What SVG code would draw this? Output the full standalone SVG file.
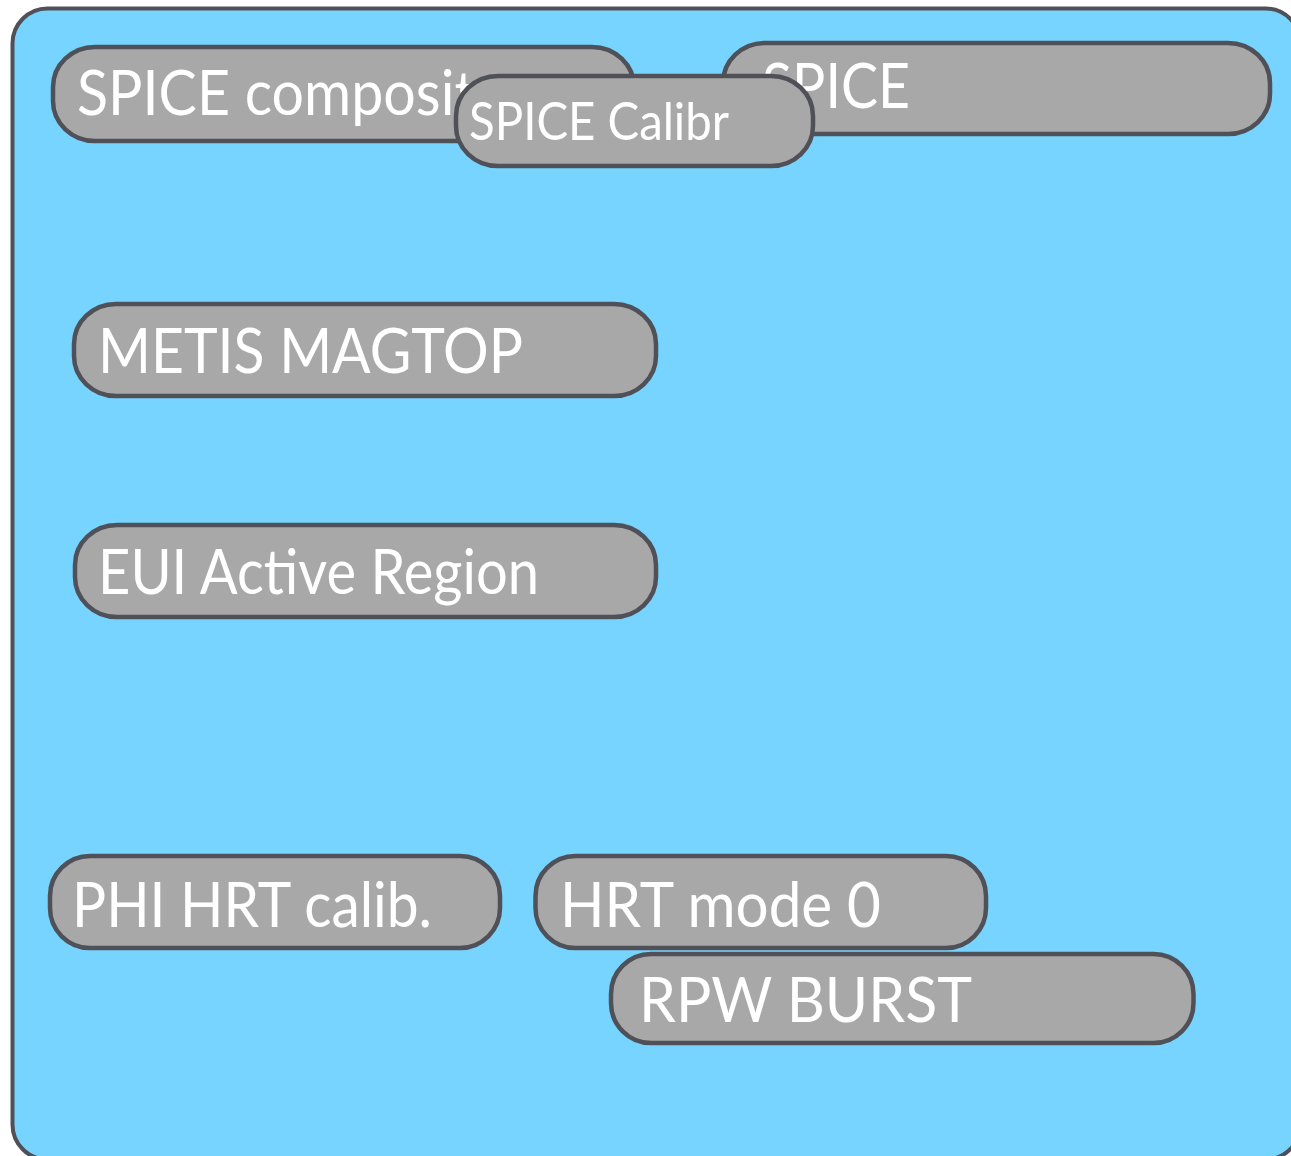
<svg xmlns="http://www.w3.org/2000/svg" width="1291" height="1156" viewBox="0 0 1291 1156">
  <style>
    .frame { fill: #76D4FE; stroke: #505158; stroke-width: 4; }
    .node rect { fill: #A8A8A8; stroke: #505158; stroke-width: 4.5; }
    .node text { fill: #FFFFFF; font-family: "Lato", "Open Sans", "Liberation Sans", sans-serif; font-size: 61px; }
    .node text.small { font-size: 52px; }
  </style>
  <rect width="1291" height="1156" fill="#FFFFFF"/>
  <g id="container">
    <rect class="frame" x="12.5" y="8.5" width="1288" height="1151" rx="35" ry="35"/>
  </g>
  <g id="connectors"></g>
  <g id="node-spice-composite" class="node">
    <rect x="53" y="47" width="581" height="94" rx="42" ry="40"/>
    <text x="77" y="115" textLength="398" lengthAdjust="spacingAndGlyphs">SPICE composit</text>
  </g>
  <g id="node-spice" class="node">
    <rect x="723" y="43" width="547" height="91" rx="42" ry="40"/>
    <text x="762" y="108" textLength="148" lengthAdjust="spacingAndGlyphs">SPICE</text>
  </g>
  <g id="node-spice-calibr" class="node">
    <rect x="456" y="76" width="357" height="90" rx="42" ry="40"/>
    <text class="small" x="469" y="140" textLength="260" lengthAdjust="spacingAndGlyphs">SPICE Calibr</text>
  </g>
  <g id="node-metis-magtop" class="node">
    <rect x="74" y="304" width="582" height="92" rx="42" ry="40"/>
    <text x="98" y="373" textLength="425" lengthAdjust="spacingAndGlyphs">METIS MAGTOP</text>
  </g>
  <g id="node-eui-active-region" class="node">
    <rect x="75" y="525" width="581" height="92" rx="42" ry="40"/>
    <text x="98" y="594" textLength="441" lengthAdjust="spacingAndGlyphs">EUI Active Region</text>
  </g>
  <g id="node-phi-hrt-calib" class="node">
    <rect x="50" y="856" width="450" height="92" rx="40" ry="40"/>
    <text x="72" y="927" textLength="360" lengthAdjust="spacingAndGlyphs">PHI HRT calib.</text>
  </g>
  <g id="node-hrt-mode-0" class="node">
    <rect x="535.5" y="856" width="450.5" height="92" rx="40" ry="40"/>
    <text x="560" y="927" textLength="321" lengthAdjust="spacingAndGlyphs">HRT mode 0</text>
  </g>
  <g id="node-rpw-burst" class="node">
    <rect x="611" y="954" width="582.5" height="89" rx="40" ry="40"/>
    <text x="639" y="1022" textLength="333" lengthAdjust="spacingAndGlyphs">RPW BURST</text>
  </g>
</svg>
